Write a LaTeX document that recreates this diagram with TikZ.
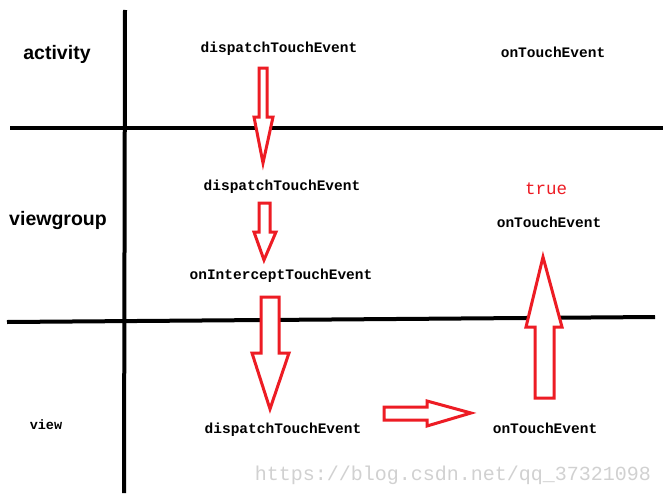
\documentclass[tikz,border=0pt]{standalone}
\usepackage{fontspec}
\setmainfont{Liberation Serif}
\newfontfamily\monofont{Liberation Mono}
\newfontfamily\labelfont{Liberation Sans}
\definecolor{paintred}{RGB}{237,28,36}
\begin{document}
\begin{tikzpicture}[x=1pt,y=-1pt,
  axis/.style={line width=4pt,black},
  blockarrow/.style={draw=paintred,line width=3pt,line join=miter,fill=white},
  method/.style={font=\monofont\bfseries\fontsize{14.5}{16}\selectfont,inner sep=0pt},
  layer/.style={font=\labelfont\bfseries\fontsize{19.5}{22}\selectfont,inner sep=0pt},
  result/.style={font=\monofont\fontsize{17.5}{20}\selectfont,text=paintred,inner sep=0pt},
  watermark/.style={font=\monofont\fontsize{20}{22}\selectfont,text=black!18,inner sep=0pt}]
\useasboundingbox (0,0) rectangle (663,495);
\fill[white] (0,0) rectangle (663,495);
% grid lines
\draw[axis] (125,10) -- (124,493);
\draw[axis] (10,128) -- (663,128);
\draw[axis] (7,322) -- (655,317);
% layer labels
\node[layer] (activity) at (57,54) {activity};
\node[layer] (viewgroup) at (58,220) {viewgroup};
\node[method,font=\monofont\bfseries\fontsize{13.5}{16}\selectfont] (view) at (46,425) {view};
% methods
\node[method] (aDispatch) at (279,49) {dispatchTouchEvent};
\node[method] (aTouch) at (553,52) {onTouchEvent};
\node[method] (gDispatch) at (282,187) {dispatchTouchEvent};
\node[result] (true) at (546,189) {true};
\node[method] (gTouch) at (549,222) {onTouchEvent};
\node[method] (gIntercept) at (281,276) {onInterceptTouchEvent};
\node[method] (vDispatch) at (283,430) {dispatchTouchEvent};
\node[method] (vTouch) at (545,428) {onTouchEvent};
\node[watermark] (wm) at (453,475) {https://blog.csdn.net/qq\_37321098};
% block arrows
\draw[blockarrow] (259,68) -- (267,68) -- (267,117) -- (273,117) -- (263,163) -- (254,117) -- (259,117) -- cycle;
\draw[blockarrow] (259,203) -- (270,203) -- (270,232) -- (276,232) -- (264,260) -- (254,232) -- (259,232) -- cycle;
\draw[blockarrow] (261,297) -- (279,297) -- (279,353) -- (289,353) -- (270,409) -- (252,353) -- (261,353) -- cycle;
\draw[blockarrow] (384,407) -- (427,407) -- (427,401) -- (471,413) -- (427,426) -- (427,420) -- (384,420) -- cycle;
\draw[blockarrow] (535,398) -- (535,327) -- (526,327) -- (543,257) -- (562,327) -- (554,327) -- (554,398) -- cycle;
\end{tikzpicture}
\end{document}
